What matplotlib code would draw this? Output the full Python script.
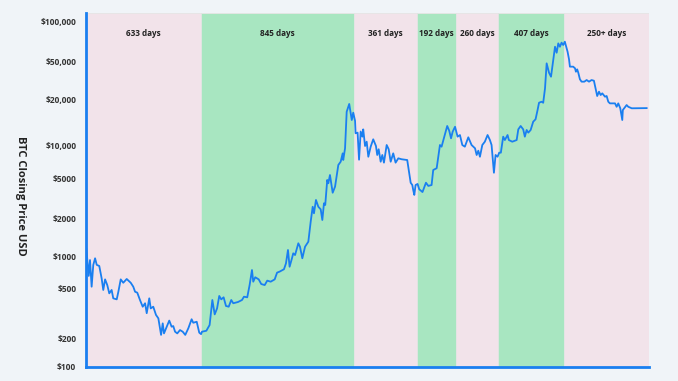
#BTC closing price with bull / bear stretches shaded
import numpy as np
import matplotlib.pyplot as plt

#Days since the Dec 2013 top and closing price (USD)
days = [2, 15, 22, 31, 40, 50, 59, 73, 86, 95, 105, 117, 128, 141, 150, 169, 178, 191, 205, 224,
        246, 260, 270, 282, 297, 312, 325, 334, 348, 356, 370, 385, 398, 413, 422, 429, 444, 458, 471, 480,
        490, 502, 517, 532, 546, 563, 581, 590, 609, 623, 633,
        638, 662, 680, 695, 708, 721, 733, 744, 757, 770, 785, 799, 810, 836, 858, 869, 887, 900, 913, 920,
        931, 950, 964, 983, 997, 1016, 1038, 1051, 1065, 1089, 1100, 1111, 1120, 1133, 1140, 1150, 1168, 1177, 1190, 1205,
        1223, 1236, 1247, 1254, 1265, 1278, 1291, 1300, 1309, 1316, 1327, 1333, 1342, 1357, 1370, 1388, 1401, 1412, 1415, 1425,
        1434, 1448, 1462, 1470,
        1480, 1483, 1494, 1502, 1511, 1520, 1525, 1535, 1544, 1553, 1566, 1580, 1595, 1602, 1610, 1621, 1630, 1639, 1654, 1665,
        1676, 1690, 1703, 1718, 1736, 1767, 1777, 1786, 1795, 1800, 1806, 1813, 1824,
        1833, 1851, 1870, 1883, 1901, 1910, 1929, 1947, 1956, 1975, 1987, 1998, 2008, 2017, 2030,
        2044, 2057, 2070, 2084, 2103, 2121, 2140, 2149, 2158, 2167, 2180, 2194, 2209, 2222, 2231, 2244, 2253, 2264,
        2273, 2282, 2295, 2304, 2319, 2326, 2345, 2369, 2378, 2391, 2405, 2414, 2424, 2433, 2446, 2460, 2473, 2484, 2492, 2506,
        2515, 2525, 2534, 2547, 2558, 2570, 2580, 2589, 2598, 2607, 2616, 2625,
        2634, 2649, 2657, 2662, 2680, 2690, 2695, 2702, 2708, 2717, 2726, 2741, 2754, 2767, 2781, 2794, 2803, 2812, 2822, 2831,
        2840, 2855, 2864, 2873, 2882, 2910, 2919, 2928, 2939, 2950, 2953, 2974, 2983, 3002, 3084]
price = [1130, 658, 918, 525, 828, 953, 830, 811, 626, 491, 612, 543, 461, 491, 420, 412, 475, 612, 570, 617,
         570, 525, 475, 467, 407, 359, 383, 318, 420, 348, 359, 308, 289, 212, 263, 218, 247, 277, 247, 250,
         225, 218, 232, 225, 212, 240, 284, 266, 271, 221, 215,
         225, 229, 255, 407, 311, 348, 439, 412, 428, 364, 359, 407, 383, 392, 407, 433, 428, 543, 745, 583,
         640, 612, 555, 543, 596, 583, 612, 705, 720, 757, 857, 1116, 798, 953, 1050, 1018, 1261, 1185, 953, 1185,
         1298, 1870, 2606, 2234, 3055, 2606, 2453, 1928, 2825, 2716, 4890, 4520, 5437, 3622, 4178, 6714, 7194, 8570, 7450, 9530,
         16750, 18840, 14790, 16520,
         14620, 12110, 12230, 7500, 12440, 11510, 12850, 10000, 10670, 7980, 9860, 11060, 10000, 8280, 9340, 7190, 8280, 7050, 10150, 9340,
         7190, 8570, 7050, 7720, 7570, 7450, 5830, 4580, 4340, 3860, 3440, 4340, 4450,
         3930, 3680, 4580, 4250, 4340, 6040, 6270, 10150, 9860, 11980, 13520, 12590, 11230, 12410, 13360,
         11510, 11800, 10150, 9860, 11400, 10150, 9530, 8280, 9060, 7980, 10150, 10670, 11800, 10940, 10150, 5700, 8280, 7980,
         8690, 8690, 11510, 10940, 11800, 10940, 10670, 10940, 12850, 13520, 12850, 11510, 12730, 12230, 12730, 14420, 14960, 17190, 19190, 19490,
         19190, 26480, 48400, 38620, 35080, 51710, 64700, 58480, 68500, 64700, 69350, 66680,
         70500, 59540, 52370, 44680, 44680, 42970, 39560, 41880, 38620, 32960, 31120, 31120, 32370, 31120, 32370, 31840, 26480, 22020, 24430, 22540,
         23480, 21660, 22020, 19490, 19010, 19010, 18060, 19010, 17650, 14790, 17190, 18540, 18060, 17650, 17700]

#Market phases: boundaries (days), labels and bull/bear flag
phase_edges = [0, 633, 1474, 1820, 2035, 2266, 2629, 3097]
phase_labels = ["633 days", "845 days", "361 days", "192 days", "260 days", "407 days", "250+ days"]
phase_bull = [False, True, False, True, False, True, False]

#Y ticks
yticks = [100, 200, 500, 1000, 2000, 5000, 10000, 20000, 50000, 100000]
ytick_labels = ["$100", "$200", "$500", "$1000", "$2000", "$5000", "$10,000", "$20,000", "$50,000", "$100,000"]

#The original axis is only roughly logarithmic: tick heights (px above $100)
scale_logs = np.log10([10] + yticks + [1000000])
scale_px = np.array([-93, 0, 28, 77, 110, 148, 187, 220, 266, 304, 345, 481], dtype=float)

def fwd(v):
    return np.interp(np.log10(np.clip(v, 1e-6, None)), scale_logs, scale_px)

def inv(h):
    return 10 ** np.interp(h, scale_px, scale_logs)

bg = "#f0f4f8"
pink = "#f2e3ea"
green = "#a8e6c1"
blue = "#1a7ff0"

fig = plt.figure(figsize=(6.78, 3.81), dpi=100, facecolor=bg)
ax = fig.add_axes([86/678, 14/381, 563/678, 354/381])
ax.set_yscale("function", functions=(fwd, inv))

for i in range(len(phase_labels)):
    ax.axvspan(phase_edges[i], phase_edges[i+1], color=green if phase_bull[i] else pink,
               ec="#e4e4e4", lw=0.6, zorder=0)
    ax.text((phase_edges[i]+phase_edges[i+1])/2, 0.941, phase_labels[i],
            transform=ax.get_xaxis_transform(), ha="center", va="center",
            fontsize=5.9, fontweight="bold", color="#222222", family="Open Sans")

ax.plot(days, price, color=blue, lw=1.3, zorder=3)

ax.set_xlim(phase_edges[0], phase_edges[-1])
ax.set_ylim(inv(-1), inv(353))
ax.set_yticks(yticks)
ax.set_yticklabels([t.replace("$", r"\$") for t in ytick_labels])
ax.minorticks_off()
ax.set_xticks([])
ax.tick_params(axis="y", length=0, pad=7, labelsize=6, labelcolor="#333333")
for lab in ax.get_yticklabels():
    lab.set_fontweight("bold")
    lab.set_family("Open Sans")

for s in ["top", "right"]:
    ax.spines[s].set_visible(False)
for s in ["left", "bottom"]:
    ax.spines[s].set_color(blue)
    ax.spines[s].set_linewidth(2)

fig.text(20/678, 1-196/381, "BTC Closing Price USD", rotation=270, ha="center", va="center",
         fontsize=8, fontweight="bold", color="#222222", family="Open Sans")

fig.savefig("out.png", dpi=100, facecolor=bg)
